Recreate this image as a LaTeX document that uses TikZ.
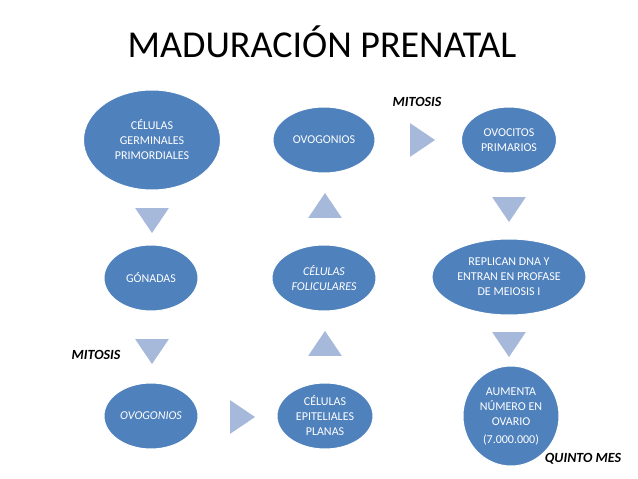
\documentclass[tikz,border=0pt]{standalone}
\usepackage{fontspec}
\setmainfont{Carlito}
\usetikzlibrary{shapes.geometric}

\definecolor{cellblue}{RGB}{79,129,189}
\definecolor{arrowblue}{RGB}{167,185,219}

\begin{document}
\begin{tikzpicture}[
    x=1pt,
    y=-1pt,
    cell/.style={ellipse, draw=white, line width=1pt, fill=cellblue, text=white, align=center, inner sep=0pt, font=\fontsize{12}{15}\selectfont},
    tri/.style={isosceles triangle, isosceles triangle apex angle=68, fill=arrowblue, inner sep=0pt, minimum height=25pt},
    tridown/.style={tri, shape border rotate=-90},
    triup/.style={tri, shape border rotate=90},
    triright/.style={tri},
    note/.style={font=\fontsize{14}{16}\selectfont\bfseries\itshape}
]
\useasboundingbox (0,0) rectangle (638,479);
\node[font=\fontsize{38}{40}\selectfont] (title) at (322,42) {MADURACIÓN PRENATAL};

\node[cell, minimum width=137pt, minimum height=100pt] (germ) at (152,140) {CÉLULAS\\GERMINALES\\PRIMORDIALES};
\node[cell, minimum width=102pt, minimum height=66pt] (ovog) at (324,140) {OVOGONIOS};
\node[cell, minimum width=95pt, minimum height=66pt] (ovoc) at (509,140) {OVOCITOS\\PRIMARIOS};
\node[cell, minimum width=94pt, minimum height=66pt] (gona) at (151,278) {GÓNADAS};
\node[cell, minimum width=104pt, minimum height=66pt, font=\fontsize{12}{15}\selectfont\itshape] (foli) at (324,278) {CÉLULAS\\FOLICULARES};
\node[cell, minimum width=154pt, minimum height=76pt] (repl) at (509,277) {REPLICAN DNA Y\\ENTRAN EN PROFASE\\DE MEIOSIS I};
\node[cell, minimum width=94pt, minimum height=66pt, font=\fontsize{12}{15}\selectfont\itshape] (ovog2) at (151,416) {OVOGONIOS};
\node[cell, minimum width=96pt, minimum height=66pt] (epit) at (325,416) {CÉLULAS\\EPITELIALES\\PLANAS};
\node[cell, minimum width=96pt, minimum height=100pt] (aume) at (511,416) {AUMENTA\\NÚMERO EN\\OVARIO\\[3pt](7.000.000)};

\node[tridown] (germ2gona) at (152,217) {};
\node[tridown] (gona2ovog) at (152,348) {};
\node[triup] (foli2ovog) at (325,209) {};
\node[triup] (epit2foli) at (325,347) {};
\node[triright] (ovog2ovoc) at (419,140) {};
\node[triright] (ovog2epit) at (239,417) {};
\node[tridown] (ovoc2repl) at (509,206) {};
\node[tridown] (repl2aume) at (509,341) {};

\node[note] (mitosis1) at (417,102) {MITOSIS};
\node[note] (mitosis2) at (96,355) {MITOSIS};
\node[note] (quinto) at (583,459) {QUINTO MES};
\end{tikzpicture}
\end{document}
